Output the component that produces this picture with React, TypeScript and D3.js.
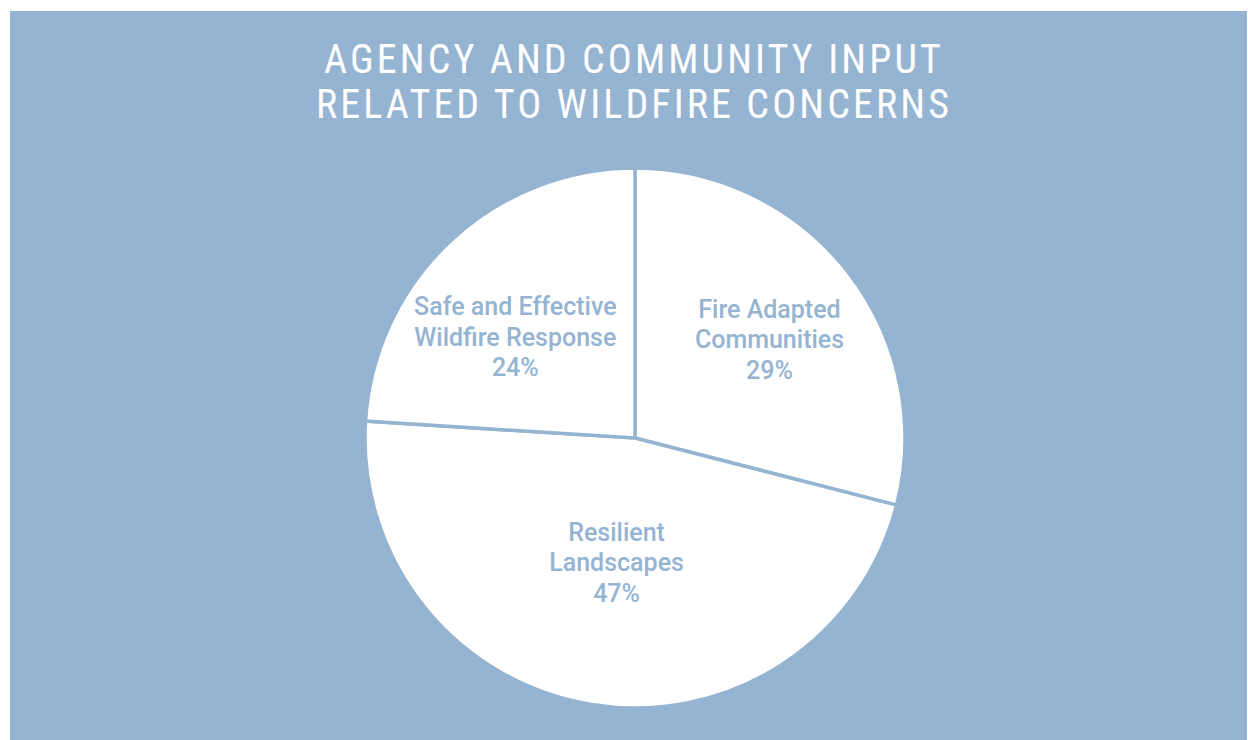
import React from "react";
import * as d3 from "d3";

const categories = ["Fire Adapted\nCommunities", "Resilient\nLandscapes", "Safe and Effective\nWildfire Response"];
const values = [29, 47, 24];
const titleLines = ["AGENCY AND COMMUNITY INPUT", "RELATED TO WILDFIRE CONCERNS"];

// layout nudges for label placement (px), relative to the arc centroid
const labelNudge: [number, number][] = [[16, -6], [5, -23], [-17, 9]];

const W = 1248;
const H = 740;
const BG = "#95b4d2";

export default function App() {
  const cx = 635;
  const cy = 438;
  const r = 270;
  const pie = d3.pie<number>().sort(null).value((d) => d).startAngle(0).endAngle(2 * Math.PI);
  const arcs = pie(values);
  const arc = d3.arc<d3.PieArcDatum<number>>().innerRadius(0).outerRadius(r);
  const labelArc = d3.arc<d3.PieArcDatum<number>>().innerRadius(300).outerRadius(0);
  return (
    <svg width={W} height={H} style={{ position: "absolute", left: 0, top: 0, display: "block" }}>
      <rect x={0} y={0} width={W} height={H} fill="#ffffff" />
      <rect x={10} y={11} width={1237} height={H - 11} fill={BG} />
      <g fontFamily="'Liberation Sans Narrow', 'Roboto Condensed', 'Liberation Sans', sans-serif" fill="#ffffff" fontSize={40} fontWeight={400} textAnchor="middle" letterSpacing={3.1}>
        {titleLines.map((t, i) => (
          <text key={i} x={634} y={73 + i * 45}>{t}</text>
        ))}
      </g>
      <g transform={`translate(${cx},${cy})`}>
        {arcs.map((a, i) => (
          <path key={i} d={arc(a) || ""} fill="#ffffff" stroke={BG} strokeWidth={3.5} />
        ))}
        {arcs.map((a, i) => {
          const [x0, y0] = labelArc.centroid(a);
          const x = x0 + labelNudge[i][0];
          const y = y0 + 8 + labelNudge[i][1];
          const lines = categories[i].split("\n").concat([`${values[i]}%`]);
          return (
            <text key={i} x={x} y={y} textAnchor="middle" fill={BG} fontFamily="Roboto, 'Liberation Sans', Arial, sans-serif" fontWeight={500} fontSize={25}>
              {lines.map((l, j) => (
                <tspan key={j} x={x} y={y + (j - 1) * 30.5}>{l}</tspan>
              ))}
            </text>
          );
        })}
      </g>
    </svg>
  );
}
